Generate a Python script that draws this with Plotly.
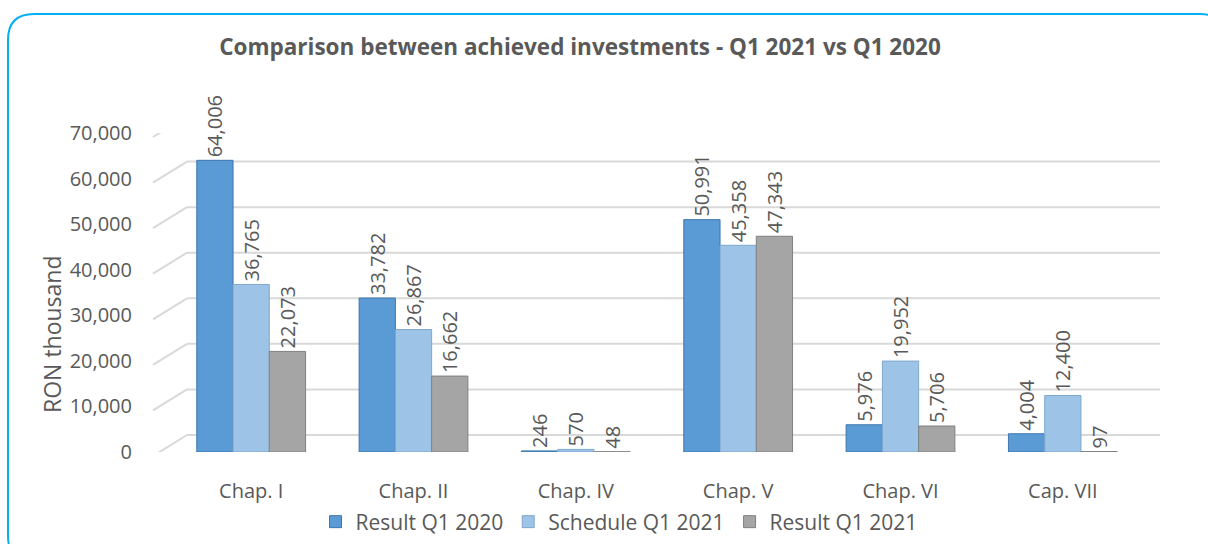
import plotly.graph_objects as go

categories = ["Chap. I", "Chap. II", "Chap. IV", "Chap. V", "Chap. VI", "Cap. VII"]
result_2020 = [64006, 33782, 246, 50991, 5976, 4004]
schedule_2021 = [36765, 26867, 570, 45358, 19952, 12400]
result_2021 = [22073, 16662, 48, 47343, 5706, 97]
series_names = ["Result Q1 2020", "Schedule Q1 2021", "Result Q1 2021"]
y_ticks = [0, 10000, 20000, 30000, 40000, 50000, 60000, 70000]

W, H = 1208, 544
L, R, T, B = 170, 64, 133, 92
PW, PH = W - L - R, H - T - B
FONT = "Open Sans"
TXT = "#595959"
GRID = "#D9D9D9"

def px(x):
    return (x - L) / PW

def py(y):
    return (H - B - y) / PH

colors = ["#5B9BD5", "#9DC3E6", "#A5A5A5"]
edges = ["#3E75AD", "#7FA7CC", "#808080"]

fig = go.Figure()
for name, vals, c, e in zip(series_names, [result_2020, schedule_2021, result_2021], colors, edges):
    fig.add_trace(go.Bar(
        x=categories, y=vals, name=name,
        marker=dict(color=c, line=dict(color=e, width=1)),
        text=[f"{v:,}" for v in vals], textposition="outside", textangle=-90,
        textfont=dict(family=FONT, size=20, color=TXT),
        constraintext="none", cliponaxis=False,
    ))

# back-wall gridlines and floor diagonals (3D look)
for v in y_ticks:
    fig.add_shape(type="line", xref="paper", yref="y", ysizemode="pixel", yanchor=v,
                  x0=px(187), x1=px(1160), y0=17, y1=17,
                  line=dict(color=GRID, width=2), layer="below")
    fig.add_shape(type="line", xref="paper", yref="y", ysizemode="pixel", yanchor=v,
                  x0=px(153), x1=px(187), y0=-4, y1=17,
                  line=dict(color=GRID, width=2), layer="below")

# rounded border
r = 26
def pt(x, y):
    return f"{px(x):.5f},{py(y):.5f}"
path = (f"M {pt(8+r,14)} L {pt(1226-r,14)} Q {pt(1226,14)} {pt(1226,14+r)} "
        f"L {pt(1226,562-r)} Q {pt(1226,562)} {pt(1226-r,562)} L {pt(8+r,562)} "
        f"Q {pt(8,562)} {pt(8,562-r)} L {pt(8,14+r)} Q {pt(8,14)} {pt(8+r,14)} Z")
fig.add_shape(type="path", path=path, xref="paper", yref="paper",
              line=dict(color="#00B0F0", width=2), layer="below")

fig.add_annotation(text="RON thousand", x=px(52), y=py(334), xref="paper", yref="paper",
                   xanchor="center", yanchor="middle",
                   textangle=-90, showarrow=False, font=dict(family=FONT, size=23, color=TXT))

fig.update_layout(
    width=W, height=H,
    margin=dict(l=L, r=R, t=T, b=B, autoexpand=False),
    paper_bgcolor="white", plot_bgcolor="white",
    barmode="group", bargap=0.33, bargroupgap=0,
    title=dict(text="<b>Comparison between achieved investments - Q1 2021 vs Q1 2020</b>",
               x=580 / W, xanchor="center", y=1 - 47 / H, yanchor="middle",
               font=dict(family=FONT, size=22.5, color=TXT)),
    legend=dict(orientation="h", x=px(619), xanchor="center", y=py(522), yanchor="middle",
                bgcolor="rgba(0,0,0,0)",
                font=dict(family=FONT, size=21, color=TXT), itemwidth=30, traceorder="normal"),
    showlegend=True,
)
fig.update_xaxes(showgrid=False, showline=False, ticks="", ticklabelstandoff=25,
                 tickfont=dict(family=FONT, size=20, color=TXT))
fig.update_yaxes(range=[0, 70000], tickvals=y_ticks, tickformat=",", showgrid=False,
                 zeroline=False, showline=False, ticks="", ticklabelstandoff=37,
                 tickfont=dict(family=FONT, size=20, color=TXT))

fig.write_html("out.html")
